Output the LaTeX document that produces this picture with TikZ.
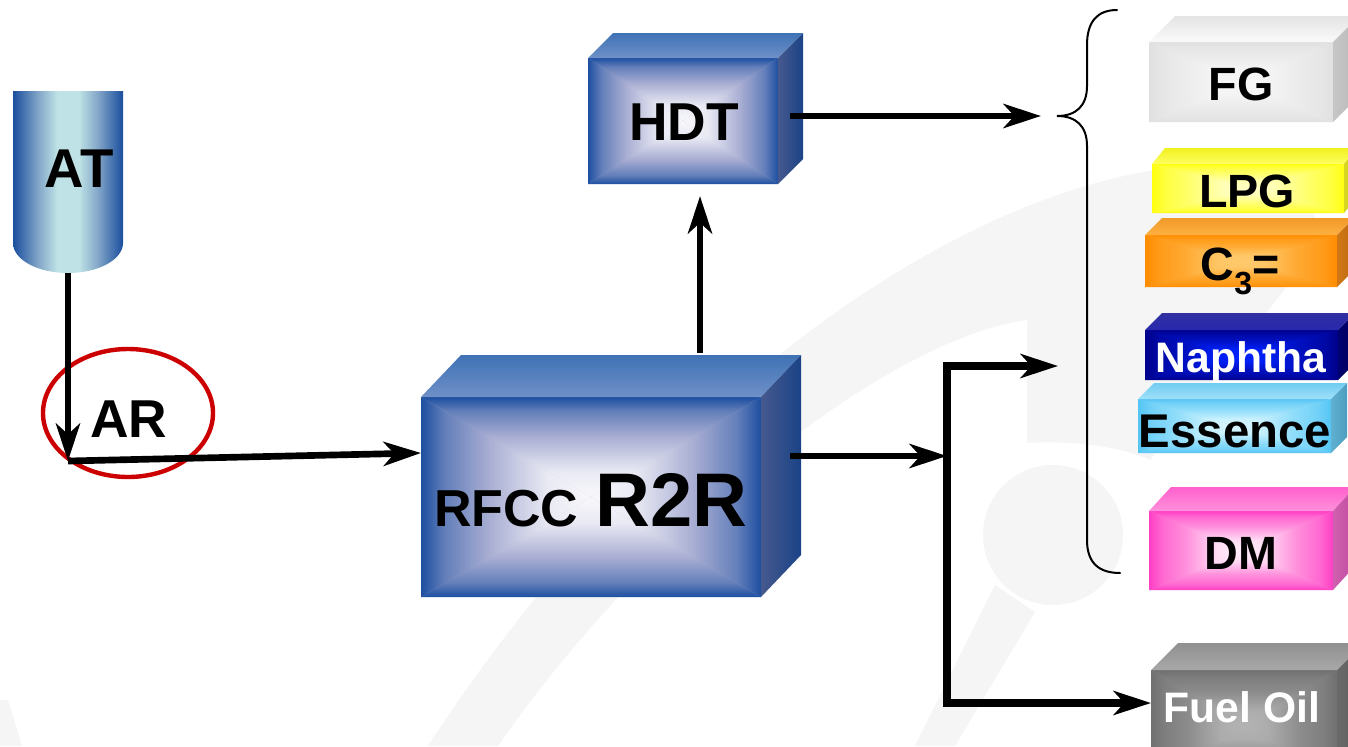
\documentclass[tikz,border=0pt]{standalone}
\usepackage{fontspec}
\setmainfont{Liberation Sans}
\usetikzlibrary{arrows.meta,calc}
\definecolor{cyledge}{HTML}{1A4E9E}
\definecolor{cylmid}{HTML}{7FA3C6}
\definecolor{cylctr}{HTML}{BEE2E5}
\definecolor{wm}{HTML}{F5F5F5}
\definecolor{ringred}{HTML}{CC0000}
\definecolor{edgec}{HTML}{1D4FA0}
\definecolor{midc}{HTML}{A9AED3}
\definecolor{ctrc}{HTML}{F8F8FB}
\pgfdeclarehorizontalshading{cylshade}{100bp}{color(0bp)=(cyledge); color(25bp)=(cyledge); color(36bp)=(cylmid); color(45bp)=(cylctr); color(55bp)=(cylctr); color(64bp)=(cylmid); color(75bp)=(cyledge); color(100bp)=(cyledge)}
\pgfdeclareverticalshading[edgec,midc,ctrc]{facev}{100bp}{color(0bp)=(ctrc); color(25bp)=(ctrc); color(38bp)=(ctrc!80!midc); color(55bp)=(midc); color(68bp)=(midc!50!edgec); color(75bp)=(edgec); color(100bp)=(edgec)}

\newcommand{\setfacecolors}[7]{%
 \definecolor{edgec}{HTML}{#1}\definecolor{midc}{HTML}{#2}\definecolor{ctrc}{HTML}{#3}%
 \definecolor{topb}{HTML}{#4}\definecolor{topf}{HTML}{#5}\definecolor{sidel}{HTML}{#6}\definecolor{sider}{HTML}{#7}}

\newcommand{\cuboid}[7]{%
 \fill[midc] (#2,#3) rectangle (#4,#5);
 \shade[shading=facev] (#2,#3) -- (#4,#3) -- ({(#2+#4)/2},{(#3+#5)/2}) -- cycle;
 \shade[shading=facev, shading angle=180] (#2,#5) -- (#4,#5) -- ({(#2+#4)/2},{(#3+#5)/2}) -- cycle;
 \shade[shading=facev, shading angle=90] (#2,#3) -- (#2,#5) -- ({(#2+#4)/2},{(#3+#5)/2}) -- cycle;
 \shade[shading=facev, shading angle=270] (#4,#3) -- (#4,#5) -- ({(#2+#4)/2},{(#3+#5)/2}) -- cycle;
 \shade[top color=topb,bottom color=topf] (#2,#3) -- ({#2+#6},{#3-#7}) -- ({#4+#6},{#3-#7}) -- (#4,#3) -- cycle;
 \shade[left color=sidel,right color=sider] (#4,#3) -- ({#4+#6},{#3-#7}) -- ({#4+#6},{#5-#7}) -- (#4,#5) -- cycle;
 \node[inner sep=0pt, outer sep=0pt, minimum width={(#4-#2)*0.75pt}, minimum height={(#5-#3)*0.75pt}] (#1) at ({(#2+#4)/2},{(#3+#5)/2}) {};
}

\begin{document}
\begin{tikzpicture}[x=0.75pt,y=-0.75pt,
  flow/.style={line width=5pt, -{Stealth[length=28pt,width=18pt,inset=8pt]}},
  flowboth/.style={line width=5.3pt, {Stealth[length=28pt,width=18pt,inset=8pt]}-{Stealth[length=28pt,width=18pt,inset=8pt]}},
  bracestyle/.style={line width=1.5pt, line cap=round},
  lbl/.style={inner sep=0pt, outer sep=0pt, anchor=base},
  big/.style={font=\bfseries\fontsize{40}{40}\selectfont},
  prod/.style={font=\bfseries\fontsize{35}{35}\selectfont},
  prodsm/.style={font=\bfseries\fontsize{32}{32}\selectfont}]
\useasboundingbox (0,0) rectangle (1348,746);
\fill[white] (0,0) rectangle (1348,746);

% faint watermark
\fill[wm] (428,746) .. controls (640,420) and (950,180) .. (1200,165) .. controls (1300,160) and (1340,210) .. (1300,270) -- (1150,460) .. controls (1120,445) and (1060,440) .. (1027,443) -- (1027,320) .. controls (880,340) and (640,540) .. (498,746) -- cycle;
\fill[wm] (1053,535) circle [radius=52.5pt];
\fill[wm] (995,585) -- (1035,612) -- (955,746) -- (915,746) -- cycle;
\fill[wm] (0,700) -- (8,700) -- (22,746) -- (0,746) -- cycle;

% AT cylinder
\shade[shading=cylshade] (13,91) -- (123,91) -- (123,243) .. controls (123,259.6) and (98.4,273) .. (68,273) .. controls (37.6,273) and (13,259.6) .. (13,243) -- cycle;
\node[inner sep=0pt, outer sep=0pt, minimum width=82.5pt, minimum height=136.5pt] (atank) at (68,182) {};

% main process boxes
\setfacecolors{1D4FA0}{A9AED3}{F8F8FB}{3F72B5}{6F90C8}{46598E}{1A4386}
\cuboid{hdt}{588}{58}{778}{184}{25}{25}
\cuboid{rfcc}{421}{397}{761}{597}{40}{42}

% product boxes
\setfacecolors{E0E0E0}{ECECEC}{F7F7F7}{E4E4E4}{FAFAFA}{C6C6C6}{B8B8B8}
\cuboid{fg}{1149}{42}{1333}{122}{26}{26}
\setfacecolors{FFFF10}{FFFF70}{FFFFC8}{F0F020}{FFFF60}{D8D820}{C8C810}
\cuboid{lpg}{1152}{164}{1344}{213}{13}{16}
\setfacecolors{FF8C00}{FFA830}{FFCC70}{F09A2A}{FFB040}{D07818}{C06A10}
\cuboid{cthree}{1145}{235}{1337}{287}{17}{17}
\setfacecolors{00008A}{0010C0}{0022FF}{3030A0}{2828B0}{000070}{000060}
\cuboid{naph}{1145}{330}{1338}{380}{17}{17}
\setfacecolors{55C5F5}{90DDFA}{D8F6FF}{70CCF0}{A0E0FA}{60B0D0}{4C9EC0}
\cuboid{ess}{1138}{399}{1331}{453}{16}{16}
\setfacecolors{FF3EC4}{FF90DC}{FFF0FA}{FF60CC}{FF90DC}{D060B0}{C04CA0}
\cuboid{dm}{1149}{511}{1333}{590}{22}{24}
\setfacecolors{707070}{8C8C8C}{B4B4B4}{909090}{A8A8A8}{6A6A6A}{5A5A5A}
\cuboid{fuel}{1151}{670}{1337}{780}{27}{27}

% AR ring
\draw[ringred, line width=3.3pt] (128,413) ellipse [x radius=63.75pt, y radius=48pt];

% connector points
\coordinate (arcorner) at (68,461);
\coordinate (rfccin) at ($(rfcc.north west)!0.28!(rfcc.south west)$);
\coordinate (rfcctop) at (700,353);
\coordinate (hdtbot) at (700,196);
\coordinate (hdtout) at (790,116);
\coordinate (bracein) at (1041,116);
\coordinate (rfccout) at (790,456);
\coordinate (junc) at (947,456);
\coordinate (jtop) at (947,366);
\coordinate (jbot) at (947,703);
\coordinate (bracelow) at (1058,366);
\coordinate (fuelin) at (1151,703);

% connectors
\draw[flow] (atank.south) -- (arcorner);
\draw[flow] (arcorner) -- (rfccin);
\draw[flow] (rfcctop) -- (hdtbot);
\draw[flow] (hdtout) -- (bracein);
\draw[flow] (rfccout) -- (junc);
\draw[flowboth] (bracelow) -- (jtop) -- (jbot) -- (fuelin);

% brace
\draw[bracestyle] (1117,10) .. controls (1097,10) and (1087,22) .. (1087,45) -- (1087,86) .. controls (1087,106) and (1076,116) .. (1057,116) .. controls (1076,116) and (1087,126) .. (1087,146) -- (1087,540) .. controls (1087,562) and (1098,573) .. (1120,573);

% labels
\node[lbl, font=\bfseries\fontsize{41}{41}\selectfont] (atlbl) at (79,187) {AT};
\node[lbl, big] (arlbl) at (129,437) {AR};
\node[lbl, big] (hdtlbl) at (684,140) {HDT};
\node[inner sep=0pt, outer sep=0pt, anchor=base west, font=\bfseries] (rfcclbl) at (434,526) {{\fontsize{39}{39}\selectfont RFCC}\hspace{13pt}{\fontsize{57}{57}\selectfont R2R}};
\node[lbl, prod] (fglbl) at (1241,100) {FG};
\node[lbl, prod] (lpglbl) at (1247,207) {LPG};
\node[lbl, prod] (c3lbl) at (1240,280) {C\raisebox{-0.32em}{\fontsize{24}{24}\selectfont 3}=};
\node[lbl, prodsm, text=white] (naphlbl) at (1241,372) {Naphtha};
\node[lbl, font=\bfseries\fontsize{35.5}{35.5}\selectfont] (esslbl) at (1235,447) {Essence};
\node[lbl, prod] (dmlbl) at (1241,569) {DM};
\node[lbl, prodsm, text=white] (fuellbl) at (1242,722) {Fuel Oil};
\end{tikzpicture}
\end{document}
